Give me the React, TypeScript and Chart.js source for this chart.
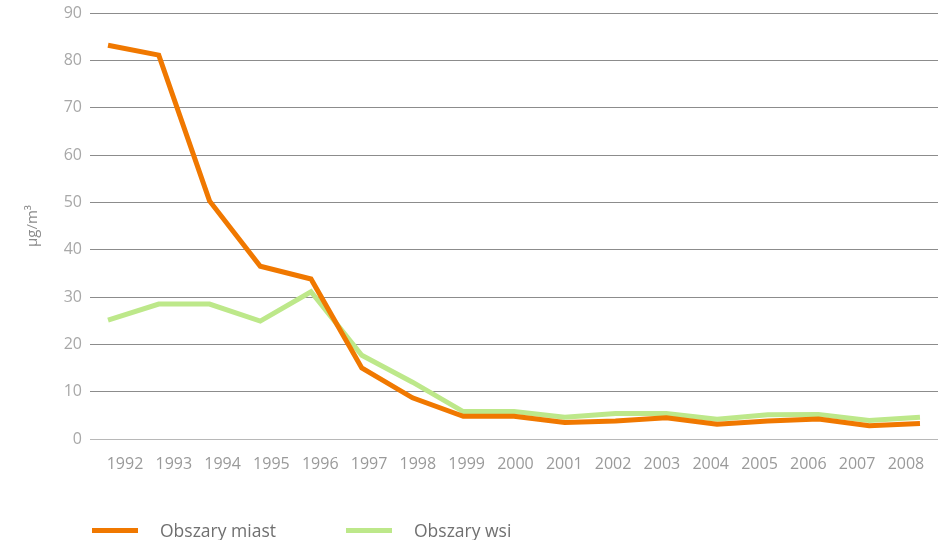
import React, { useEffect, useRef } from "react";
import { Chart, registerables } from "chart.js";

Chart.register(...registerables);

const years = [1992, 1993, 1994, 1995, 1996, 1997, 1998, 1999, 2000, 2001, 2002, 2003, 2004, 2005, 2006, 2007, 2008];
const miast = [83.2, 81.1, 50.3, 36.5, 33.8, 15.0, 8.7, 4.8, 4.8, 3.5, 3.8, 4.5, 3.1, 3.8, 4.2, 2.8, 3.3];
const wsi = [25.1, 28.5, 28.5, 24.9, 31.1, 17.7, 12.0, 5.8, 5.8, 4.6, 5.4, 5.4, 4.2, 5.1, 5.2, 3.9, 4.6];
const yTicks = [0, 10, 20, 30, 40, 50, 60, 70, 80, 90];
const seriesNames = ["Obszary miast", "Obszary wsi"];
const seriesColors = ["#F07800", "#BDE88A"];
const yTitle = "µg/m³";

const FONT = "'Open Sans', 'DejaVu Sans', sans-serif";

export default function App() {
  const ref = useRef<HTMLCanvasElement | null>(null);

  useEffect(() => {
    if (!ref.current) return;
    const chart = new Chart(ref.current, {
      type: "line",
      data: {
        datasets: [
          {
            label: seriesNames[0],
            data: years.map((y, i) => ({ x: y, y: miast[i] })),
            borderColor: seriesColors[0],
            backgroundColor: seriesColors[0],
            borderWidth: 5,
            pointRadius: 0,
            tension: 0,
            xAxisID: "x",
          },
          {
            label: seriesNames[1],
            data: years.map((y, i) => ({ x: y, y: wsi[i] })),
            borderColor: seriesColors[1],
            backgroundColor: seriesColors[1],
            borderWidth: 5,
            pointRadius: 0,
            tension: 0,
            xAxisID: "x",
          },
        ],
      },
      options: {
        animation: false,
        responsive: false,
        maintainAspectRatio: false,
        layout: { padding: { top: 13, right: 0, bottom: 61, left: 0 } },
        plugins: {
          legend: { display: false },
          tooltip: { enabled: false },
        },
        scales: {
          x: {
            type: "linear",
            min: 1991.645,
            max: 2008.355,
            display: false,
          },
          xl: {
            type: "linear",
            position: "bottom",
            min: 1991.283,
            max: 2008.657,
            afterBuildTicks: (axis: any) => {
              axis.ticks = years.map((v) => ({ value: v }));
            },
            afterFit: (axis: any) => {
              axis.height = 40;
              axis.paddingLeft = 0;
              axis.paddingRight = 0;
            },
            grid: { display: false, drawTicks: false },
            border: { display: false },
            ticks: {
              padding: 16,
              color: "#9a9a9a",
              font: { family: FONT, size: 16 },
              maxRotation: 0,
              autoSkip: false,
              callback: (v: any) => String(v),
            },
          },
          y: {
            min: 0,
            max: 90,
            afterBuildTicks: (axis: any) => {
              axis.ticks = yTicks.map((v) => ({ value: v }));
            },
            afterFit: (axis: any) => {
              axis.width = 90;
              axis.paddingTop = 0;
              axis.paddingBottom = 0;
            },
            grid: {
              drawTicks: false,
              lineWidth: 1,
              color: (ctx: any) => (ctx.tick && ctx.tick.value === 0 ? "#b8b8b8" : "#8c8c8c"),
            },
            border: { display: false },
            ticks: {
              padding: 8,
              color: "#a8a8a8",
              font: { family: FONT, size: 16 },
            },
            title: {
              display: true,
              text: yTitle,
              color: "#8a8a8a",
              font: { family: FONT, size: 15 },
              padding: { top: 24, bottom: 0 },
            },
          },
        },
      },
    });
    return () => chart.destroy();
  }, []);

  return (
    <div style={{ position: "fixed", left: 0, top: 0, width: 938, height: 540, background: "#fff" }}>
      <canvas ref={ref} width={938} height={540} style={{ display: "block" }} />
      {seriesNames.map((name, i) => (
        <div
          key={name}
          style={{
            position: "absolute",
            top: 518,
            left: i === 0 ? 92 : 346,
            display: "flex",
            alignItems: "center",
            fontFamily: FONT,
            fontSize: 17.5,
            color: "#707070",
            whiteSpace: "nowrap",
          }}
        >
          <span style={{ display: "inline-block", width: 46, height: 5, background: seriesColors[i], marginRight: 22 }} />
          <span>{name}</span>
        </div>
      ))}
    </div>
  );
}
